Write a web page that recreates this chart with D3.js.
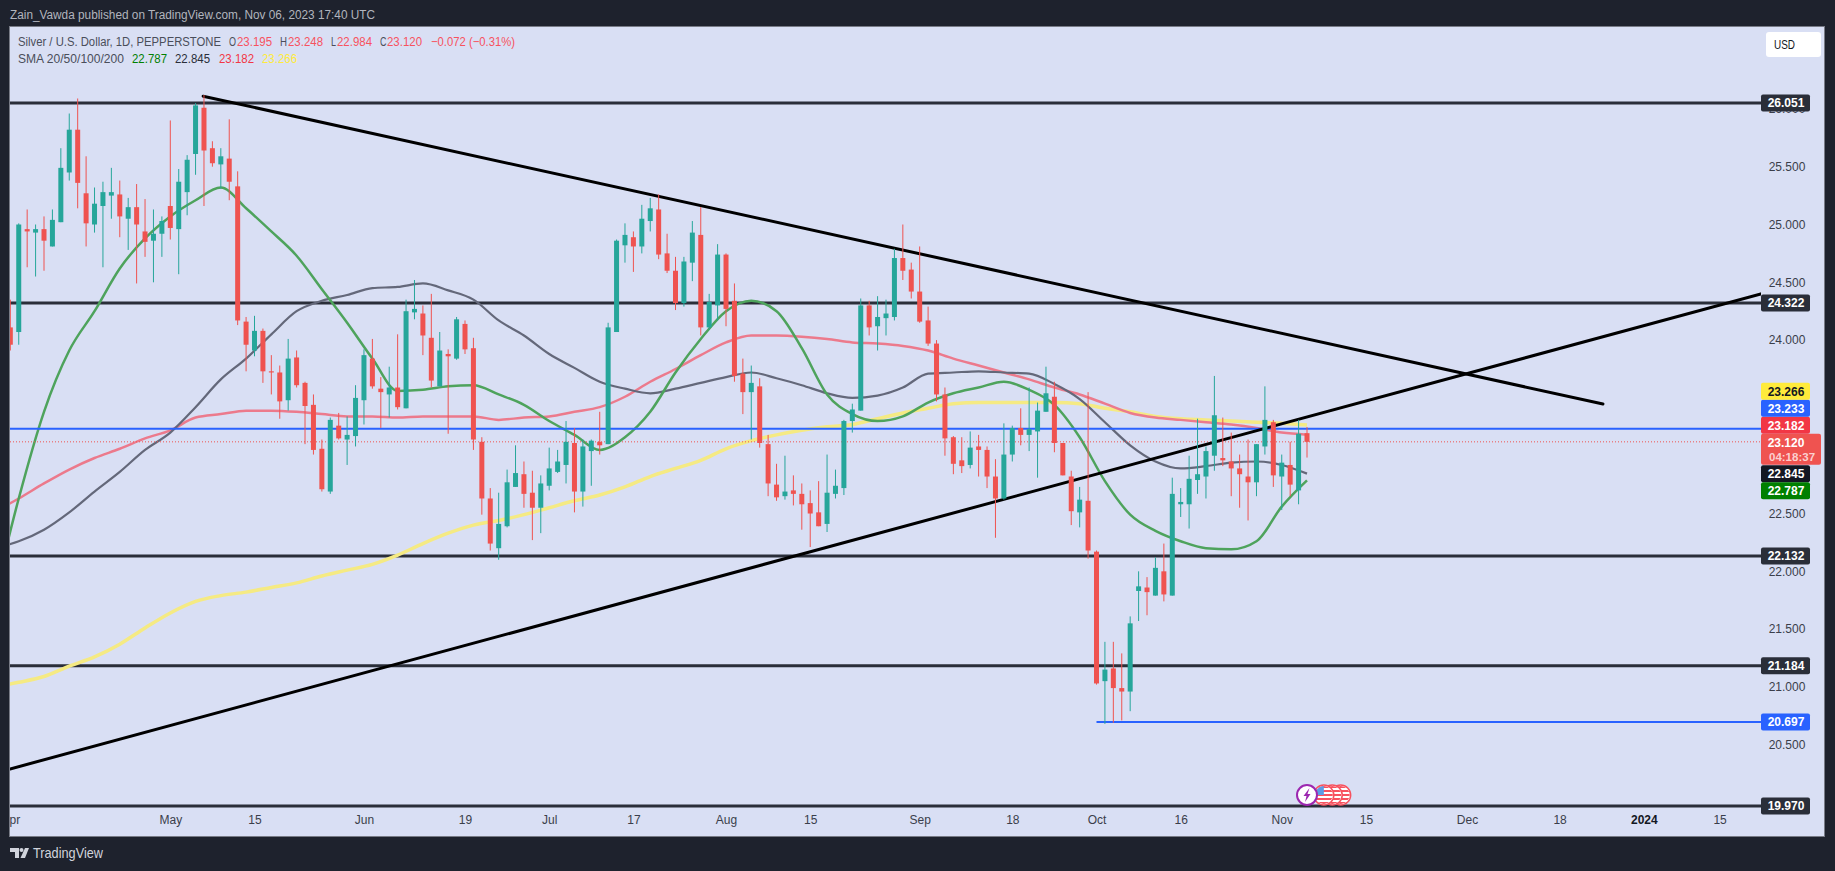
<!DOCTYPE html>
<html>
<head>
<meta charset="utf-8">
<script src="https://cdnjs.cloudflare.com/ajax/libs/d3/7.8.5/d3.min.js"></script>
<style>
  html, body { margin: 0; padding: 0; background: #1e222d; }
  svg { display: block; }
  text { font-family: "Liberation Sans", sans-serif; }
</style>
</head>
<body>
<div id="chart"></div>
<script>
// daily candles, oldest first. last bar is Nov 06
const opens = [
  24.11,24.07,24.96,24.93,24.96,24.81,25.02,25.45,25.82,25.27,
  25.00,25.16,25.25,25.26,25.05,25.15,24.94,24.86,24.92,25.16,
  24.96,25.28,25.61,26.01,25.66,25.52,25.57,25.33,24.16,23.91,
  24.08,23.73,23.72,23.48,23.85,23.63,23.44,23.06,22.69,23.26,
  23.14,23.17,23.48,23.84,23.58,23.53,23.59,23.41,24.24,24.23,
  24.02,23.60,23.88,23.84,24.14,23.93,23.12,22.63,22.20,22.39,
  22.73,22.84,22.68,22.55,22.74,22.86,22.92,23.11,22.69,23.04,
  23.12,23.10,24.07,24.82,24.89,24.81,25.03,25.13,24.75,24.60,
  24.32,24.67,24.91,24.11,24.30,24.74,24.34,23.71,23.55,23.60,
  23.10,22.75,22.65,22.70,22.67,22.59,22.51,22.41,22.67,22.72,
  23.30,23.39,24.30,24.12,24.19,24.20,24.71,24.61,24.42,24.17,
  23.97,23.53,23.16,22.96,22.92,23.08,23.05,22.82,22.63,23.01,
  23.24,23.18,23.21,23.38,23.51,23.11,22.82,22.51,22.61,22.17,
  21.05,21.16,20.99,20.96,21.83,21.86,21.79,22.00,21.79,22.58,
  22.58,22.79,22.82,23.00,22.98,22.95,22.89,22.82,22.77,23.08,
  23.29,22.82,22.92,22.70,23.195
];
const highs = [
  24.35,25.01,25.13,25.00,25.07,25.13,25.66,25.96,26.09,25.59,
  25.32,25.37,25.49,25.38,25.23,25.35,25.22,25.13,25.07,25.90,
  25.48,25.60,26.05,26.12,25.72,25.66,25.91,25.46,24.20,24.21,
  24.10,23.87,23.78,24.01,23.91,23.64,23.53,23.14,23.33,23.37,
  23.34,23.61,23.92,24.01,23.68,23.77,24.05,24.35,24.52,24.30,
  24.40,24.07,23.92,24.20,24.17,24.02,23.16,22.72,22.68,22.88,
  23.09,22.95,22.87,22.83,23.07,23.05,23.30,23.24,23.14,23.14,
  23.38,24.15,24.87,25.01,24.94,25.17,25.23,25.26,24.92,24.72,
  24.72,25.03,25.15,24.40,24.83,24.75,24.49,23.84,23.78,23.67,
  23.18,22.93,23.00,22.83,22.76,22.70,22.78,23.01,22.88,23.31,
  23.45,24.36,24.34,24.38,24.35,24.79,25.00,24.67,24.81,24.29,
  24.00,23.59,23.17,23.16,23.21,23.18,23.08,22.97,23.28,23.26,
  23.41,23.59,23.46,23.77,23.64,23.11,22.87,22.73,23.55,22.18,
  21.39,21.39,21.29,21.61,22.00,21.95,22.12,22.24,22.81,22.72,
  23.00,23.32,23.08,23.69,23.33,23.20,23.01,23.14,23.10,23.60,
  23.31,23.01,23.12,23.31,23.248
];
const lows = [
  23.91,23.96,24.63,24.55,24.60,24.81,25.02,25.38,25.14,24.81,
  24.93,24.63,25.05,24.89,24.78,24.49,24.72,24.50,24.72,24.87,
  24.57,25.08,25.43,25.16,25.50,25.31,25.21,24.13,23.73,23.86,
  23.63,23.53,23.32,23.39,23.59,23.10,23.01,22.69,22.67,23.14,
  22.92,23.08,23.27,23.58,23.24,23.33,23.40,23.41,24.18,23.87,
  23.59,23.60,23.19,23.83,23.88,23.05,22.49,22.18,22.10,22.38,
  22.73,22.55,22.27,22.33,22.70,22.85,22.76,22.51,22.56,22.74,
  23.01,23.10,24.07,24.67,24.59,24.75,24.94,24.70,24.58,24.26,
  24.29,24.51,24.04,24.09,24.17,24.12,23.64,23.36,23.14,23.07,
  22.65,22.61,22.62,22.57,22.36,22.21,22.39,22.34,22.63,22.66,
  23.20,23.39,24.04,23.91,24.04,24.17,24.52,24.36,24.15,23.95,
  23.47,23.00,22.84,22.85,22.89,22.82,22.72,22.29,22.62,22.95,
  23.09,23.04,22.81,23.38,23.03,22.83,22.40,22.38,22.11,21.02,
  20.68,20.69,20.71,20.79,21.57,21.62,21.79,21.74,21.79,22.47,
  22.37,22.67,22.63,22.87,22.91,22.65,22.55,22.44,22.65,23.01,
  22.73,22.53,22.65,22.58,22.984
];
const closes = [
  23.96,25.00,24.94,24.96,24.86,25.04,25.49,25.82,25.36,25.01,
  25.18,25.28,25.28,25.07,25.15,25.00,24.85,24.92,25.03,24.97,
  25.37,25.56,26.03,25.64,25.53,25.59,25.37,24.17,23.96,24.08,
  23.73,23.72,23.47,23.84,23.61,23.43,23.05,22.71,23.31,23.15,
  23.18,23.50,23.87,23.60,23.55,23.59,23.42,24.25,24.27,24.04,
  23.65,23.91,23.86,24.18,23.92,23.14,22.63,22.24,22.41,22.77,
  22.85,22.67,22.55,22.76,22.89,22.95,23.12,22.69,23.08,23.13,
  23.09,24.11,24.86,24.91,24.81,25.05,25.14,24.74,24.60,24.32,
  24.68,24.93,24.11,24.33,24.74,24.27,23.69,23.55,23.63,23.11,
  22.76,22.64,22.69,22.67,22.58,22.50,22.39,22.68,22.74,23.30,
  23.40,24.30,24.11,24.20,24.23,24.71,24.60,24.42,24.16,23.97,
  23.53,23.15,22.93,22.91,23.07,23.05,22.82,22.63,23.01,23.24,
  23.18,23.23,23.39,23.54,23.11,22.83,22.52,22.62,22.18,21.03,
  21.15,20.99,20.96,21.55,21.87,21.82,22.03,21.80,22.67,22.60,
  22.80,22.84,23.04,23.35,22.96,22.89,22.84,22.77,23.10,23.31,
  22.83,22.94,22.75,23.19,23.120
];

// moving averages, read every third bar (bar 0 = last candle)
const smaBars = [
  -156,-153,-150,-147,-144,-141,-138,-135,-132,-129,-126,-123,-120,-117,-114,-111,-108,-105,
  -102,-99,-96,-93,-90,-87,-84,-81,-78,-75,-72,-69,-66,-63,-60,-57,-54,-51,-48,-45,-42,-39,
  -36,-33,-30,-27,-24,-21,-18,-15,-12,-9,-6,-3,0
];
const sma20 = [
  21.75,22.63,23.38,23.91,24.25,24.62,24.88,25.07,25.21,25.32,25.14,24.94,24.73,24.44,24.15,23.84,
  23.56,23.57,23.60,23.61,23.53,23.44,23.30,23.18,23.05,23.16,23.38,23.72,24.01,24.25,24.34,24.25,
  23.93,23.53,23.36,23.30,23.34,23.46,23.54,23.59,23.64,23.57,23.44,23.16,22.78,22.49,22.35,22.26,
  22.20,22.19,22.26,22.56,22.787
];
const sma50 = [
  22.20,22.26,22.36,22.51,22.69,22.86,23.05,23.20,23.42,23.66,23.84,24.05,24.25,24.34,24.39,24.45,
  24.46,24.49,24.43,24.35,24.17,24.04,23.88,23.76,23.64,23.58,23.54,23.58,23.63,23.68,23.72,23.67,
  23.61,23.54,23.50,23.52,23.59,23.71,23.72,23.73,23.72,23.71,23.62,23.49,23.29,23.09,22.95,22.89,
  22.91,22.94,22.95,22.92,22.845
];
const sma100 = [
  22.51,22.63,22.76,22.88,22.98,23.06,23.15,23.22,23.33,23.36,23.39,23.39,23.38,23.36,23.34,23.34,
  23.33,23.34,23.34,23.34,23.31,23.33,23.34,23.38,23.42,23.51,23.64,23.75,23.87,23.98,24.04,24.04,
  24.03,24.01,23.98,23.97,23.95,23.91,23.84,23.78,23.72,23.66,23.59,23.53,23.45,23.37,23.33,23.31,
  23.29,23.27,23.24,23.20,23.182
];
const sma200 = [
  21.00,21.04,21.09,21.18,21.26,21.37,21.51,21.64,21.74,21.79,21.82,21.86,21.90,21.96,22.01,22.06,
  22.14,22.24,22.33,22.40,22.44,22.49,22.55,22.61,22.66,22.73,22.82,22.89,22.96,23.06,23.13,23.18,
  23.22,23.25,23.27,23.32,23.37,23.41,23.45,23.46,23.46,23.46,23.46,23.45,23.41,23.38,23.34,23.32,
  23.31,23.30,23.29,23.28,23.266
];

// drawings on the chart
const levelPrices = [26.051, 24.322, 22.132, 21.184, 19.970];
const bluePrices = [23.233, 20.697];
const blueStartBars = [-156, -25];
const trendBars = [[-154.04, 53.9], [-131.1, 35.15]];
const trendPrices = [[20.29, 24.40], [26.11, 23.447]];

// axes (23.5, 23 and 20 are hidden behind the price boxes in the original)
const priceTicks = [26, 25.5, 25, 24.5, 24, 22.5, 22, 21.5, 21, 20.5];
const timeTickBars = [-154, -135, -125, -112, -100, -90, -80, -69, -59, -46, -35, -25, -15, -3, 7, 19, 30, 40, 49];
const timeTickLabels = ["Apr", "May", "15", "Jun", "19", "Jul", "17", "Aug", "15", "Sep", "18", "Oct", "16", "Nov", "15", "Dec", "18", "2024", "15"];

const lastPrice = 23.120;
const eventBars = [2, 3, 4];

const W = 1835, H = 871;
const pane = { left: 10, top: 27, right: 1824, bottom: 836, axis: 1761 };
const barStep = 8.42, lastBarX = 1307;
const bodyW = 5;
const UP = "#26a69a", DOWN = "#ef5350", BLUE = "#2962ff", DARK = "#2a2e39";

const x = d3.scaleLinear().domain([0, 50]).range([lastBarX, lastBarX + 50 * barStep]);
const y = d3.scaleLinear().domain([26.051, 19.970]).range([103, 806]);

const svg = d3.select("#chart").append("svg").attr("width", W).attr("height", H);

svg.append("rect").attr("width", W).attr("height", H).attr("fill", "#1e222d");
svg.append("rect")
  .attr("x", pane.left - 0.5).attr("y", pane.top - 0.5)
  .attr("width", pane.right - pane.left + 1).attr("height", pane.bottom - pane.top + 1)
  .attr("fill", "#d9dff4").attr("stroke", "#787b86");

const defs = svg.append("defs");
defs.append("clipPath").attr("id", "plotClip").append("rect")
  .attr("x", pane.left).attr("y", pane.top)
  .attr("width", pane.axis - pane.left).attr("height", pane.bottom - pane.top);
defs.append("clipPath").attr("id", "paneClip").append("rect")
  .attr("x", pane.left).attr("y", pane.top)
  .attr("width", pane.right - pane.left).attr("height", pane.bottom - pane.top);

const plot = svg.append("g").attr("clip-path", "url(#plotClip)");

// horizontal levels
plot.selectAll(".level").data(levelPrices).enter().append("line")
  .attr("class", "level")
  .attr("x1", pane.left).attr("x2", pane.axis)
  .attr("y1", d => y(d)).attr("y2", d => y(d))
  .attr("stroke", DARK).attr("stroke-width", 3);

// moving averages
const smaLine = d3.line().x((d, i) => x(smaBars[i])).y(d => y(d)).curve(d3.curveMonotoneX);
const smaSeries = [
  { values: sma200, color: "#f5ea83", width: 3.5 },
  { values: sma100, color: "#ec7a8c", width: 2.5 },
  { values: sma50, color: "#64687a", width: 2.2 },
  { values: sma20, color: "#4ea35c", width: 2.5 }
];
plot.selectAll(".sma").data(smaSeries).enter().append("path")
  .attr("class", "sma")
  .attr("d", d => smaLine(d.values))
  .attr("fill", "none")
  .attr("stroke", d => d.color)
  .attr("stroke-width", d => d.width);

// blue lines and the dotted last price
plot.selectAll(".blue").data(bluePrices).enter().append("line")
  .attr("class", "blue")
  .attr("x1", (d, i) => x(blueStartBars[i])).attr("x2", pane.axis)
  .attr("y1", d => y(d)).attr("y2", d => y(d))
  .attr("stroke", BLUE).attr("stroke-width", 2);
plot.append("line")
  .attr("x1", pane.left).attr("x2", pane.axis)
  .attr("y1", y(lastPrice)).attr("y2", y(lastPrice))
  .attr("stroke", DOWN).attr("stroke-width", 1).attr("stroke-dasharray", "1 2");

// trend lines
plot.selectAll(".trend").data(trendBars).enter().append("line")
  .attr("class", "trend")
  .attr("x1", d => x(d[0])).attr("x2", d => x(d[1]))
  .attr("y1", (d, i) => y(trendPrices[i][0])).attr("y2", (d, i) => y(trendPrices[i][1]))
  .attr("stroke", "#000").attr("stroke-width", 3).attr("stroke-linecap", "round");

// candles
const bars = opens.map((o, i) => ({
  bar: i - (opens.length - 1), o, h: highs[i], l: lows[i], c: closes[i]
}));
const candle = plot.selectAll(".candle").data(bars).enter().append("g").attr("class", "candle");
candle.append("line")
  .attr("x1", d => x(d.bar)).attr("x2", d => x(d.bar))
  .attr("y1", d => y(d.h)).attr("y2", d => y(d.l))
  .attr("stroke", d => d.c >= d.o ? UP : DOWN).attr("stroke-width", 1);
candle.append("rect")
  .attr("x", d => x(d.bar) - bodyW / 2)
  .attr("y", d => y(Math.max(d.o, d.c)))
  .attr("width", bodyW)
  .attr("height", d => Math.max(1, Math.abs(y(d.o) - y(d.c))))
  .attr("fill", d => d.c >= d.o ? UP : DOWN);

// price axis ticks sit under the boxes
const yAxis = d3.axisRight(y).tickValues(priceTicks).tickFormat(d3.format(".3f")).tickSize(0);
const yAxisG = svg.append("g").attr("transform", `translate(1787,0)`).call(yAxis);
yAxisG.select(".domain").remove();
yAxisG.selectAll("text")
  .attr("x", 0).attr("text-anchor", "middle")
  .attr("fill", "#3a3e4a").style("font-size", "12px").style("font-family", '"Liberation Sans", sans-serif');

// time axis
const xAxis = d3.axisBottom(x).tickValues(timeTickBars)
  .tickFormat((d, i) => timeTickLabels[i]).tickSize(0);
const xAxisG = svg.append("g").attr("clip-path", "url(#paneClip)")
  .append("g").attr("transform", "translate(0,813)").call(xAxis);
xAxisG.select(".domain").remove();
xAxisG.selectAll("text")
  .attr("y", 0).attr("dy", "0.95em")
  .attr("fill", d => d === 40 ? "#131722" : "#3a3e4a")
  .style("font-weight", d => d === 40 ? "bold" : "normal")
  .style("font-size", "12px").style("font-family", '"Liberation Sans", sans-serif');

// boxes on the price axis
function priceBox(cy, label, fill, color) {
  const g = svg.append("g");
  g.append("rect").attr("x", 1761).attr("y", cy - 8.5).attr("width", 49).attr("height", 17)
    .attr("rx", 2).attr("fill", fill);
  g.append("text").attr("x", 1786).attr("y", cy + 4.3).attr("text-anchor", "middle")
    .attr("font-size", 12).attr("font-weight", "bold").attr("fill", color).text(label);
}
levelPrices.forEach(p => priceBox(y(p), d3.format(".3f")(p), DARK, "#fff"));
priceBox(y(20.697), "20.697", BLUE, "#fff");

const lastTop = y(lastPrice) - 8;
priceBox(lastTop - 8.5, "23.182", "#f23645", "#fff");
priceBox(lastTop - 25.5, "23.233", BLUE, "#fff");
priceBox(lastTop - 42.5, "23.266", "#ffeb3b", "#131722");
priceBox(y(22.845), "22.845", "#131722", "#fff");
priceBox(y(22.845) + 17, "22.787", "#008000", "#fff");

svg.append("rect").attr("x", 1761).attr("y", lastTop).attr("width", 60).attr("height", 31)
  .attr("rx", 2).attr("fill", DOWN);
svg.append("text").attr("x", 1786).attr("y", lastTop + 13).attr("text-anchor", "middle")
  .attr("font-size", 12).attr("font-weight", "bold").attr("fill", "#fff").text("23.120");
svg.append("text").attr("x", 1769).attr("y", lastTop + 27)
  .attr("font-size", 11.5).attr("font-weight", "bold").attr("fill", "#fbd0cf").text("04:18:37");

// event icons under the last bars
const iconY = 795;
const flags = svg.append("g");
eventBars.slice().reverse().forEach((b, i) => {
  const cx = x(b), id = "flag" + i;
  defs.append("clipPath").attr("id", id).append("circle").attr("cx", cx).attr("cy", iconY).attr("r", 9);
  flags.append("circle").attr("cx", cx).attr("cy", iconY).attr("r", 10).attr("fill", "#fff").attr("stroke", "#f7525f").attr("stroke-width", 1.5);
  const f = flags.append("g").attr("clip-path", `url(#${id})`);
  d3.range(-9, 9, 4).forEach(dy => {
    f.append("rect").attr("x", cx - 10).attr("y", iconY + dy).attr("width", 20).attr("height", 2).attr("fill", "#f7525f");
  });
  if (b === eventBars[0]) {
    f.append("rect").attr("x", cx - 10).attr("y", iconY - 10).attr("width", 10).attr("height", 10).attr("fill", "#5b9be6");
  }
});
svg.append("circle").attr("cx", x(0)).attr("cy", iconY).attr("r", 10)
  .attr("fill", "#fff").attr("stroke", "#9c27b0").attr("stroke-width", 2);
svg.append("path")
  .attr("d", d3.line()([[x(0) + 2.5, iconY - 7], [x(0) - 3.5, iconY + 1], [x(0) - 0.5, iconY + 1], [x(0) - 2, iconY + 7], [x(0) + 3.5, iconY - 1], [x(0) + 0.5, iconY - 1]]) + "Z")
  .attr("fill", "#9c27b0");

// titles and legend. textLength keeps the narrow look of the original font
svg.append("text").attr("x", 10).attr("y", 19).attr("font-size", 12.5).attr("fill", "#b2b5be")
  .attr("textLength", 365).attr("lengthAdjust", "spacingAndGlyphs")
  .text("Zain_Vawda published on TradingView.com, Nov 06, 2023 17:40 UTC");

const GREY = "#4a4e5a", RED = "#f7525f";
const legendRows = [
  [[18, 46, "Silver / U.S. Dollar, 1D, PEPPERSTONE", GREY, 203], [229, 46, "O", GREY, 7], [237, 46, "23.195", RED, 35],
   [280, 46, "H", GREY, 7], [288, 46, "23.248", RED, 35], [331, 46, "L", GREY, 5], [337, 46, "22.984", RED, 35],
   [380, 46, "C", GREY, 6.5], [387, 46, "23.120", RED, 35], [431, 46, "\u22120.072 (\u22120.31%)", RED, 84]],
  [[18, 63, "SMA 20/50/100/200", GREY, 106], [132, 63, "22.787", "#008000", 35], [175, 63, "22.845", "#2a2e39", 35],
   [219, 63, "23.182", "#f23645", 35], [262, 63, "23.266", "#ffeb3b", 35]]
];
legendRows.forEach(row => row.forEach(s => {
  const t = svg.append("text").attr("x", s[0]).attr("y", s[1]).attr("font-size", 12.5).attr("fill", s[3]).text(s[2]);
  if (s[4]) t.attr("textLength", s[4]).attr("lengthAdjust", "spacingAndGlyphs");
}));

// currency button
svg.append("rect").attr("x", 1766).attr("y", 32).attr("width", 55).attr("height", 25).attr("rx", 3).attr("fill", "#fff");
svg.append("text").attr("x", 1774).attr("y", 49).attr("font-size", 12).attr("fill", "#131722")
  .attr("textLength", 21).attr("lengthAdjust", "spacingAndGlyphs").text("USD");

// footer logo
const logo = svg.append("g").attr("fill", "#d1d4dc");
logo.append("path").attr("d", "M10 848H19V858H15V852H10Z");
logo.append("circle").attr("cx", 21.5).attr("cy", 850).attr("r", 2);
logo.append("path").attr("d", "M25 848H29L25 858H20.5Z");
svg.append("text").attr("x", 33).attr("y", 858).attr("font-size", 15).attr("fill", "#d1d4dc")
  .attr("textLength", 70).attr("lengthAdjust", "spacingAndGlyphs").text("TradingView");
</script>
</body>
</html>
